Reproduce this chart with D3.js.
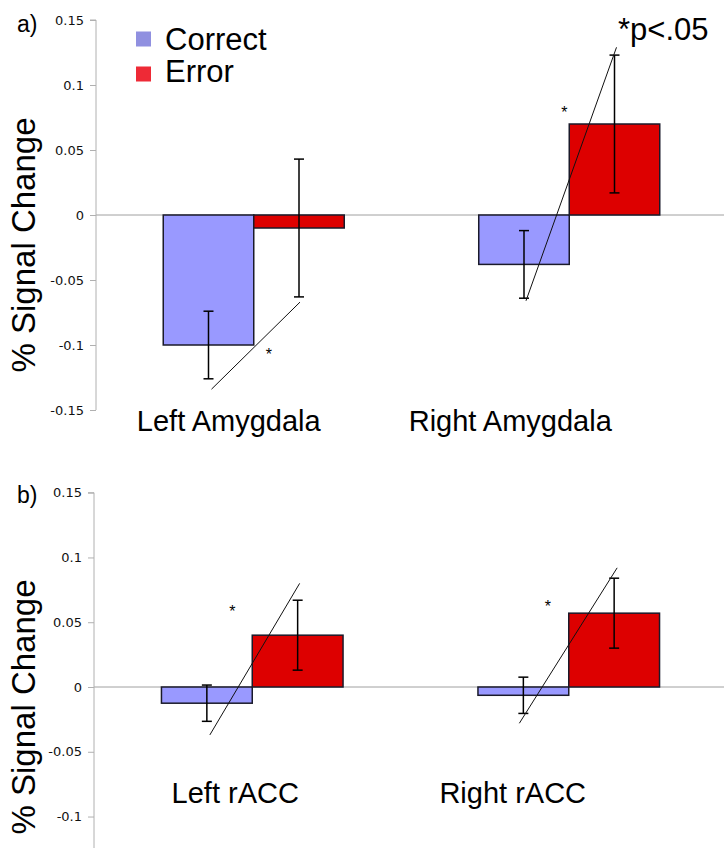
<!DOCTYPE html>
<html><head><meta charset="utf-8">
<script src="https://cdn.jsdelivr.net/npm/d3@7"></script>
<style>html,body{margin:0;padding:0;background:#fff;}svg{display:block;}</style>
</head><body>
<script>
// ---- data ----
const seriesNames = ["Correct", "Error"];
const topCategories = ["Left Amygdala", "Right Amygdala"];
const topCorrect = [-0.100, -0.038];
const topError = [-0.010, 0.070];
const topCorrectErr = [0.026, 0.026];
const topErrorErr = [0.053, 0.053];
const topSigFrom = [-0.134, -0.066];   // significance line start (Correct side)
const topSigTo = [-0.067, 0.129];      // significance line end (Error side)
const topStar = [-0.105, 0.081];

const botCategories = ["Left rACC", "Right rACC"];
const botCorrect = [-0.0125, -0.0064];
const botError = [0.040, 0.057];
const botCorrectErr = [0.014, 0.014];
const botErrorErr = [0.027, 0.027];
const botSigFrom = [-0.037, -0.028];
const botSigTo = [0.080, 0.092];
const botStar = [0.060, 0.064];

const yTicks = [-0.15, -0.1, -0.05, 0, 0.05, 0.1, 0.15];
const tickLabels = ["-0.15", "-0.1", "-0.05", "0", "0.05", "0.1", "0.15"];
const pLabel = "*p<.05";
const yTitle = "% Signal Change";

// ---- drawing ----
const W = 724, H = 848;
const svg = d3.select("body").append("svg").attr("width", W).attr("height", H);
const colors = {Correct: "#9999ff", Error: "#dd0000"};
const legendColors = {Correct: "#9090e0", Error: "#ee2a36"};

function panel(opts) {
  const g = svg.append("g");
  const y = d3.scaleLinear().domain([-0.15, 0.15]).range([opts.yBottom, opts.yTop]);
  const x0 = d3.scaleBand().domain(opts.categories).range([opts.axisX, 727]).padding(0);
  const x1 = d3.scaleBand().domain(seriesNames).range([0, x0.bandwidth()]).paddingInner(0).paddingOuter(0.743);

  // zero line
  g.append("line").attr("x1", opts.axisX).attr("x2", W).attr("y1", y(0)).attr("y2", y(0))
    .attr("stroke", "#a0a0a0").attr("stroke-width", 1);

  // axis (only ticks inside the visible part)
  const visTicks = yTicks.filter(t => y(t) <= opts.axisEnd);
  const axis = d3.axisLeft(y).tickValues(visTicks).tickSize(6).tickPadding(6)
    .tickFormat(d => tickLabels[yTicks.indexOf(d)]);
  const ag = g.append("g").attr("transform", `translate(${opts.axisX},0)`).call(axis);
  ag.select(".domain").attr("stroke", "#b0b0b0").attr("d", `M-6,${opts.yTop}H0V${opts.axisEnd}`);
  ag.selectAll(".tick line").attr("stroke", "#b0b0b0");
  ag.selectAll(".tick text").attr("font-family", "DejaVu Sans, Verdana, sans-serif")
    .attr("font-size", 13).attr("fill", "#111");

  const rows = opts.categories.map((c, i) => ({
    cat: c, i,
    vals: [
      {s: "Correct", v: opts.correct[i], e: opts.correctErr[i]},
      {s: "Error", v: opts.error[i], e: opts.errorErr[i]}
    ]
  }));

  const grp = g.selectAll(".grp").data(rows).join("g")
    .attr("transform", d => `translate(${x0(d.cat)},0)`);

  grp.selectAll("rect").data(d => d.vals).join("rect")
    .attr("x", d => x1(d.s))
    .attr("width", x1.bandwidth())
    .attr("y", d => y(Math.max(0, d.v)))
    .attr("height", d => Math.abs(y(d.v) - y(0)))
    .attr("fill", d => colors[d.s])
    .attr("stroke", "#1a1a2a").attr("stroke-width", 1.5);

  grp.each(function(d) {
    const gg = d3.select(this);
    d.vals.forEach(v => {
      const cx = x1(v.s) + x1.bandwidth() / 2;
      const lo = y(v.v - v.e), hi = y(v.v + v.e);
      gg.append("line").attr("x1", cx).attr("x2", cx).attr("y1", lo).attr("y2", hi)
        .attr("stroke", "#000").attr("stroke-width", 1.5);
      [lo, hi].forEach(yy => gg.append("line").attr("x1", cx - 5).attr("x2", cx + 5)
        .attr("y1", yy).attr("y2", yy).attr("stroke", "#000").attr("stroke-width", 1.5));
    });
    const xa = x1("Correct") + x1.bandwidth() / 2 + opts.sigDx[d.i][0];
    const xb = x1("Error") + x1.bandwidth() / 2 + opts.sigDx[d.i][1];
    gg.append("line").attr("x1", xa).attr("y1", y(opts.sigFrom[d.i]))
      .attr("x2", xb).attr("y2", y(opts.sigTo[d.i]))
      .attr("stroke", "#111").attr("stroke-width", 1);
    gg.append("text").attr("x", x0.bandwidth() / 2 + opts.starDx[d.i])
      .attr("y", y(opts.star[d.i]) + 8)
      .attr("text-anchor", "middle").attr("font-family", "Liberation Sans, Arial, sans-serif")
      .attr("font-size", 16).text("*");
    gg.append("text").attr("x", x0.bandwidth() / 2 + opts.labelDx[d.i])
      .attr("y", opts.labelY).attr("text-anchor", "middle")
      .attr("font-family", "Liberation Sans, Arial, sans-serif").attr("font-size", 29)
      .attr("fill", "#000").text(d.cat);
  });

  g.append("text").attr("transform", `translate(35,${opts.titleY}) rotate(-90)`)
    .attr("text-anchor", "middle").attr("font-family", "Liberation Sans, Arial, sans-serif")
    .attr("font-size", 33).attr("fill", "#000").text(yTitle);
  g.append("text").attr("x", 17).attr("y", opts.letterY)
    .attr("font-family", "Liberation Sans, Arial, sans-serif").attr("font-size", 23)
    .text(opts.letter);
  return {y, x0, x1};
}

panel({
  categories: topCategories, correct: topCorrect, error: topError,
  correctErr: topCorrectErr, errorErr: topErrorErr,
  sigFrom: topSigFrom, sigTo: topSigTo, star: topStar,
  sigDx: [[3, 1], [2, 2]], starDx: [15, -5], labelDx: [-25, -59],
  yTop: 20, yBottom: 410, axisEnd: 410, axisX: 96, labelY: 431, titleY: 245,
  letter: "a)", letterY: 32
});

panel({
  categories: botCategories, correct: botCorrect, error: botError,
  correctErr: botCorrectErr, errorErr: botErrorErr,
  sigFrom: botSigFrom, sigTo: botSigTo, star: botStar,
  sigDx: [[3, 2], [-4, 3]], starDx: [-20, -21], labelDx: [-17, -56],
  yTop: 492.7, yBottom: 881.3, axisEnd: 848, axisX: 94, labelY: 803, titleY: 707,
  letter: "b)", letterY: 503
});

// legend
const lg = svg.append("g");
seriesNames.forEach((s, i) => {
  lg.append("rect").attr("x", 136).attr("y", 31.5 + i * 35).attr("width", 15).attr("height", 15)
    .attr("fill", legendColors[s]);
  lg.append("text").attr("x", 165).attr("y", 49.5 + i * 32)
    .attr("font-family", "Liberation Sans, Arial, sans-serif").attr("font-size", 31)
    .attr("fill", "#000").text(s);
});
svg.append("text").attr("x", 618).attr("y", 40)
  .attr("font-family", "Liberation Sans, Arial, sans-serif").attr("font-size", 31)
  .text(pLabel);
</script>
</body></html>
